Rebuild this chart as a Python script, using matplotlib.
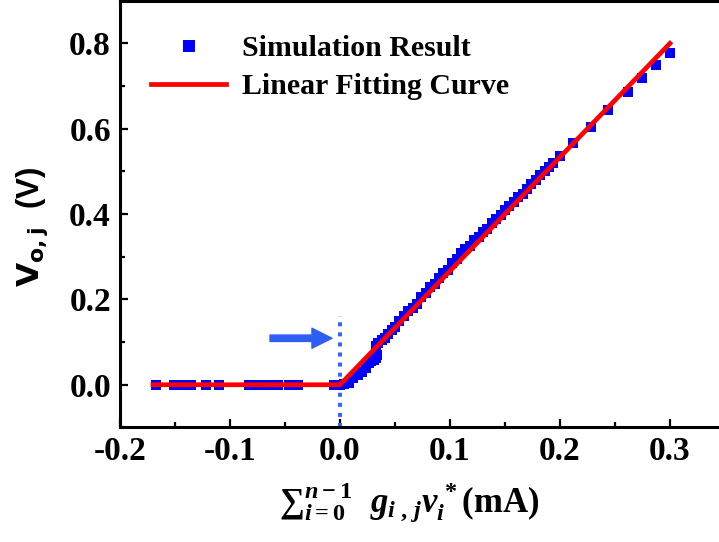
import matplotlib
matplotlib.use("Agg")
import matplotlib.pyplot as plt
from matplotlib.ticker import MultipleLocator

# ---- data ----
# flat part of the transfer curve (negative weighted input -> output clamped at 0)
sim_x_flat = [-0.167, -0.151, -0.145, -0.139, -0.135, -0.122, -0.110,
              -0.083, -0.078, -0.072, -0.066, -0.061, -0.056,
              -0.046, -0.038, -0.005]
sim_y_flat = [0.0] * len(sim_x_flat)

# rising part of the transfer curve
sim_x_rise = [0.000, 0.004, 0.008, 0.012, 0.016, 0.020, 0.024, 0.026, 0.028,
              0.031, 0.033, 0.034, 0.033, 0.035, 0.038, 0.041, 0.044, 0.047,
              0.050, 0.054, 0.058, 0.062, 0.066, 0.070, 0.074, 0.078, 0.082,
              0.086, 0.090, 0.094, 0.098, 0.102, 0.106, 0.110, 0.114, 0.118,
              0.122, 0.126, 0.130, 0.134, 0.138, 0.142, 0.146, 0.150, 0.154,
              0.158, 0.162, 0.166, 0.170, 0.174, 0.178, 0.182, 0.186, 0.190,
              0.194, 0.200, 0.212, 0.228, 0.244, 0.262, 0.275, 0.287, 0.300]
sim_y_rise = [0.000, 0.002, 0.005, 0.015, 0.022, 0.030, 0.040, 0.050, 0.055,
              0.058, 0.062, 0.070, 0.090, 0.098, 0.104, 0.110, 0.120, 0.128,
              0.135, 0.150, 0.160, 0.172, 0.180, 0.190, 0.205, 0.214, 0.228,
              0.236, 0.250, 0.262, 0.270, 0.285, 0.294, 0.308, 0.318, 0.326,
              0.340, 0.346, 0.358, 0.366, 0.380, 0.388, 0.398, 0.410, 0.418,
              0.428, 0.440, 0.448, 0.458, 0.470, 0.480, 0.492, 0.500, 0.510,
              0.519, 0.536, 0.566, 0.605, 0.645, 0.686, 0.719, 0.749, 0.778]

# piecewise linear fit
fit_x = [-0.17, 0.0, 0.30]
fit_y = [0.0, 0.0, 0.80]

# marker for the threshold point
threshold_x = 0.0
threshold_y_span = (-0.1, 0.16)
arrow_tail = (-0.0636, 0.109)
arrow_tip = (-0.0073, 0.109)

x_limits = (-0.2, 0.36)
y_limits = (-0.1, 0.9)
x_ticks = [-0.2, -0.1, 0.0, 0.1, 0.2, 0.3]
y_ticks = [0.0, 0.2, 0.4, 0.6, 0.8]

# ---- style ----
plt.rcParams["font.family"] = ["Liberation Serif", "DejaVu Serif"]
plt.rcParams["font.weight"] = "bold"
plt.rcParams["mathtext.fontset"] = "custom"
plt.rcParams["mathtext.it"] = "Liberation Serif:italic:bold"
plt.rcParams["mathtext.rm"] = "Liberation Serif:bold"
plt.rcParams["mathtext.bf"] = "Liberation Serif:bold"

fig = plt.figure(figsize=(7.19, 5.42), dpi=100)
# axes box runs a little past the right edge of the canvas
ax = fig.add_axes([0.1669, 0.2114, 0.8567, 0.7873])

sim_x = sim_x_flat + sim_x_rise
sim_y = sim_y_flat + sim_y_rise

ax.plot(sim_x, sim_y, linestyle="none", marker="s", markersize=6.5,
        color="#0000ff", markeredgewidth=0, label="Simulation Result", zorder=3)
ax.plot(fit_x, fit_y, color="#ff0000", linewidth=3.4,
        label="Linear Fitting Curve", zorder=4)

ax.plot([threshold_x, threshold_x], list(threshold_y_span), color="#3366ff",
        linewidth=2.9, linestyle=(0, (1, 1.5)), dash_capstyle="butt", zorder=2)

ax.annotate("", xy=arrow_tip, xytext=arrow_tail,
            arrowprops=dict(arrowstyle="simple,head_length=1.0,head_width=1.0,tail_width=0.32",
                            color="#2f5ff2", shrinkA=0, shrinkB=0, mutation_scale=14.4))

ax.set_xlim(*x_limits)
ax.set_ylim(*y_limits)
ax.set_xticks(x_ticks)
ax.set_yticks(y_ticks)
ax.xaxis.set_minor_locator(MultipleLocator(0.05))
ax.yaxis.set_minor_locator(MultipleLocator(0.1))
ax.set_xticklabels([f"{v:.1f}" for v in x_ticks])
ax.set_yticklabels([f"{v:.1f}" for v in y_ticks])

for s in ax.spines.values():
    s.set_linewidth(2.2)
ax.tick_params(which="major", direction="in", length=6, width=1.6,
               labelsize=24, pad=6.5)
ax.tick_params(which="minor", direction="in", length=3.6, width=1.6)
for lab in ax.get_xticklabels() + ax.get_yticklabels():
    lab.set_fontweight("bold")

ax.set_ylabel(r"$\mathbf{V_{o,j}}$  (V)", fontsize=22.5, fontweight="bold",
              family=["Liberation Sans", "DejaVu Sans"],
              math_fontfamily="dejavusans")
ax.yaxis.set_label_coords(-0.113, 0.47)

ax.set_xlabel(r"${\sum}_{i=0}^{n-1}\ \ g_{i\ ,\,j}v_i^{\,*}$(mA)", fontsize=25,
              fontweight="bold")
ax.xaxis.set_label_coords(0.47, -0.125)

leg = ax.legend(loc="upper left", bbox_to_anchor=(0.012, 0.975), frameon=False,
                prop={"family": "Liberation Serif", "weight": "bold", "size": 21.5},
                handlelength=2.5, handletextpad=0.55, labelspacing=0.36,
                borderaxespad=0.4, markerscale=1.25, numpoints=1)

fig.savefig("out.png", dpi=100)
